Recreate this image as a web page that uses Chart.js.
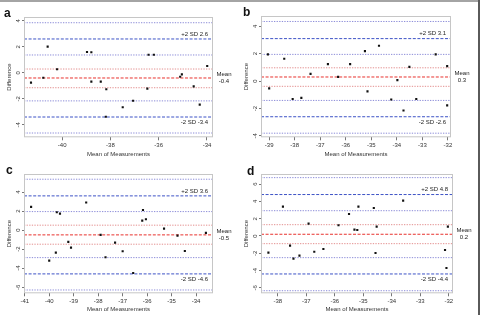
<!DOCTYPE html>
<html>
<head>
<meta charset="utf-8">
<script src="https://cdn.jsdelivr.net/npm/chart.js@4/dist/chart.umd.min.js"></script>
<style>
  body { margin: 0; background: #fff; }
  #wrap { position: relative; width: 480px; height: 315px; overflow: hidden; background: #fff; }
  canvas { position: absolute; }
  .tag { position: absolute; font: bold 12px "Liberation Sans", Arial, sans-serif; line-height: 12px; color: #111; }
  .frame { position: absolute; }
</style>
</head>
<body>
<div id="wrap">
  <canvas id="ca" width="240" height="160" style="left:0;top:0"></canvas>
  <canvas id="cb" width="240" height="160" style="left:240px;top:0"></canvas>
  <canvas id="cc" width="240" height="160" style="left:0;top:155px"></canvas>
  <canvas id="cd" width="240" height="160" style="left:240px;top:155px"></canvas>
  <div class="tag" style="left:4px;top:7px">a</div>
  <div class="tag" style="left:243px;top:6px">b</div>
  <div class="tag" style="left:6px;top:164px">c</div>
  <div class="tag" style="left:247px;top:165px">d</div>
  <div class="frame" style="left:0;top:0;width:480px;height:2px;background:#a4a4a4"></div>
  <div class="frame" style="left:478px;top:0;width:2px;height:315px;background:#5a5a5a"></div>
</div>
<script>
// panel a
const aMeanX = [-41.29, -40.78, -40.6, -40.21, -38.97, -38.79, -38.79, -38.4, -38.17, -38.19,
                -37.49, -37.06, -36.47, -36.42, -36.2, -35.11, -35.04, -34.55, -34.3, -33.99];
const aDiff  = [-0.76, -0.38, 2.01, 0.27, 1.6, 1.58, -0.68, -0.68, -1.27, -3.38,
                -2.65, -2.15, -1.22, 1.39, 1.39, -0.3, -0.12, -1.04, -2.45, 0.52];
const aLimits = [-0.4, 2.6, -3.4];          // mean, +2SD, -2SD
const aMeanCI = [0.29, -1.15];
const aLimitCI = [3.85, 1.37, -2.16, -4.63];
const aXRange = [-41.58, -33.75];
const aYRange = [-4.96, 4.29];
const aXTicks = [-40, -38, -36, -34];
const aYTicks = [-4, -2, 0, 2, 4];

// panel b
const bMeanX = [-39.05, -39.0, -38.41, -38.08, -37.74, -37.38, -36.7, -36.3, -35.83, -35.25,
                -35.15, -34.7, -34.22, -33.98, -33.74, -33.51, -33.24, -32.48, -32.03, -32.03];
const bDiff  = [1.95, -0.53, 1.63, -1.31, -1.22, 0.53, 1.24, 0.31, 1.24, 2.19,
                -0.75, 2.58, -1.34, 0.07, -2.14, 1.04, -1.31, 1.95, 1.09, -1.77];
const bLimits = [0.3, 3.1, -2.6];
const bMeanCI = [0.97, -0.38];
const bLimitCI = [4.35, 1.95, -1.41, -3.8];
const bXRange = [-39.32, -31.88];
const bYRange = [-4.1, 4.75];
const bXTicks = [-39, -38, -37, -36, -35, -34, -33, -32];
const bYTicks = [-4, -2, 0, 2, 4];

// panel c
const cMeanX = [-40.74, -40.0, -39.73, -39.69, -39.56, -39.22, -39.11, -38.49, -37.9, -37.7,
                -37.31, -37.0, -36.57, -36.2, -36.17, -36.05, -35.31, -34.76, -34.46, -33.6];
const cDiff  = [2.44, -3.2, -2.36, 1.88, 1.74, -1.24, -1.84, 2.9, -0.5, -2.85,
                -1.31, -2.22, -4.5, 1.0, 2.12, 1.14, 0.16, -0.58, -2.19, -0.29];
const cLimits = [-0.5, 3.6, -4.6];
const cMeanCI = [0.52, -1.48];
const cLimitCI = [5.35, 1.95, -2.89, -6.29];
const cXRange = [-41.03, -33.31];
const cYRange = [-6.64, 5.9];
const cXTicks = [-41, -40, -39, -38, -37, -36, -35, -34];
const cYTicks = [-6, -4, -2, 0, 2, 4];

// panel d
const dMeanX = [-38.33, -37.82, -37.57, -37.45, -37.24, -36.92, -36.72, -36.4, -35.87, -35.5,
                -35.31, -35.21, -35.17, -34.63, -34.57, -34.53, -33.6, -32.13, -32.08, -32.03];
const dDiff  = [-1.93, 3.4, -1.12, -2.63, -2.28, 1.43, -1.82, -1.51, 1.24, 2.55,
                0.73, 0.69, 3.4, 3.24, -1.97, 1.08, 4.09, -1.62, -3.71, 1.08];
const dLimits = [0.2, 4.8, -4.4];
const dMeanCI = [1.31, -0.89];
const dLimitCI = [6.76, 2.93, -2.51, -6.34];
const dXRange = [-38.59, -31.85];
const dYRange = [-6.64, 7.18];
const dXTicks = [-38, -37, -36, -35, -34, -33, -32];
const dYTicks = [-6, -4, -2, 0, 2, 4, 6];

const FONT = '"Liberation Sans", Arial, sans-serif';
const INK = '#333';
const RED = '#e8322e', RED_DOT = '#e38f8f';
const BLUE = '#3d53c6', BLUE_DOT = '#8c8cd8';

// box round the plot area plus the SD / mean labels
const boxAndLabels = {
  id: 'boxAndLabels',
  afterDatasetsDraw(chart, args, opts) {
    const { ctx, chartArea: a } = chart;
    const y = chart.scales.y;
    ctx.save();
    ctx.strokeStyle = '#c6c6c6';
    ctx.lineWidth = 1;
    ctx.strokeRect(a.left + 0.5, a.top + 0.5, a.right - a.left - 1, a.bottom - a.top - 1);
    ctx.fillStyle = '#222';
    ctx.font = '6px ' + FONT;
    ctx.textBaseline = 'middle';
    ctx.textAlign = 'right';
    ctx.fillText('+2 SD ' + opts.limits[1], a.right - 5, y.getPixelForValue(opts.limits[1]) - 5);
    ctx.fillText('-2 SD ' + opts.limits[2], a.right - 5, y.getPixelForValue(opts.limits[2]) + 5.5);
    ctx.textAlign = 'center';
    const my = y.getPixelForValue(opts.limits[0]);
    ctx.fillText('Mean', a.right + 11, my - 3.5);
    ctx.fillText(String(opts.limits[0]), a.right + 11, my + 3.5);
    ctx.restore();
  }
};

function hLine(v, xr, color, dash) {
  return {
    type: 'line',
    data: [{ x: xr[0], y: v }, { x: xr[1], y: v }],
    borderColor: color,
    borderWidth: 1,
    borderDash: dash,
    pointRadius: 0,
    fill: false
  };
}

function makePanel(id, xs, ys, limits, meanCI, limitCI, xr, yr, xt, yt, box) {
  const H = 160;
  const datasets = [{
    type: 'scatter',
    data: xs.map((x, i) => ({ x: x, y: ys[i] })),
    pointStyle: 'rect',
    pointRadius: 1.5,
    backgroundColor: '#111',
    borderColor: '#111',
    borderWidth: 0
  }];
  limitCI.forEach(v => datasets.push(hLine(v, xr, BLUE_DOT, [1.3, 1.3])));
  meanCI.forEach(v => datasets.push(hLine(v, xr, RED_DOT, [1.3, 1.3])));
  datasets.push(hLine(limits[1], xr, BLUE, [3, 1.6]));
  datasets.push(hLine(limits[2], xr, BLUE, [3, 1.6]));
  datasets.push(hLine(limits[0], xr, RED, [3, 1.6]));

  return new Chart(document.getElementById(id), {
    data: { datasets: datasets },
    options: {
      responsive: false,
      animation: false,
      devicePixelRatio: 1,
      layout: { padding: { left: 0, top: box.top, right: 240 - box.right, bottom: 0 } },
      plugins: {
        legend: { display: false },
        tooltip: { enabled: false },
        boxAndLabels: { limits: limits }
      },
      scales: {
        x: {
          type: 'linear', min: xr[0], max: xr[1],
          afterBuildTicks: s => { s.ticks = xt.map(v => ({ value: v })); },
          afterFit: s => { s.height = H - box.bottom; },
          grid: { drawOnChartArea: false, tickLength: 3, color: '#777' },
          border: { display: false },
          ticks: { autoSkip: false, maxRotation: 0, padding: 1, color: INK,
                   font: { size: 6, family: FONT }, callback: v => String(v) },
          title: { display: true, text: 'Mean of Measurements', color: INK,
                   font: { size: 6, family: FONT }, padding: { top: 0, bottom: 1.7 } }
        },
        y: {
          type: 'linear', min: yr[0], max: yr[1],
          afterBuildTicks: s => { s.ticks = yt.map(v => ({ value: v })); },
          afterFit: s => { s.width = box.left; },
          grid: { drawOnChartArea: false, tickLength: 2, color: '#777' },
          border: { display: false },
          ticks: { autoSkip: false, minRotation: 90, maxRotation: 90, crossAlign: 'center',
                   padding: 1, color: INK, font: { size: 6, family: FONT }, callback: v => String(v) },
          title: { display: true, text: 'Difference', color: INK,
                   font: { size: 6, family: FONT }, padding: { top: box.titlePad, bottom: 0 } }
        }
      }
    },
    plugins: [boxAndLabels]
  });
}

makePanel('ca', aMeanX, aDiff, aLimits, aMeanCI, aLimitCI, aXRange, aYRange, aXTicks, aYTicks,
          { left: 24, right: 213, top: 17, bottom: 137.3, titlePad: 5.4 });
makePanel('cb', bMeanX, bDiff, bLimits, bMeanCI, bLimitCI, bXRange, bYRange, bXTicks, bYTicks,
          { left: 21, right: 211, top: 16, bottom: 137.3, titlePad: 2.6 });
makePanel('cc', cMeanX, cDiff, cLimits, cMeanCI, cLimitCI, cXRange, cYRange, cXTicks, cYTicks,
          { left: 24, right: 213, top: 19, bottom: 138.3, titlePad: 5.4 });
makePanel('cd', dMeanX, dDiff, dLimits, dMeanCI, dLimitCI, dXRange, dYRange, dXTicks, dYTicks,
          { left: 21, right: 213, top: 19, bottom: 138.3, titlePad: 2.6 });
</script>
</body>
</html>
